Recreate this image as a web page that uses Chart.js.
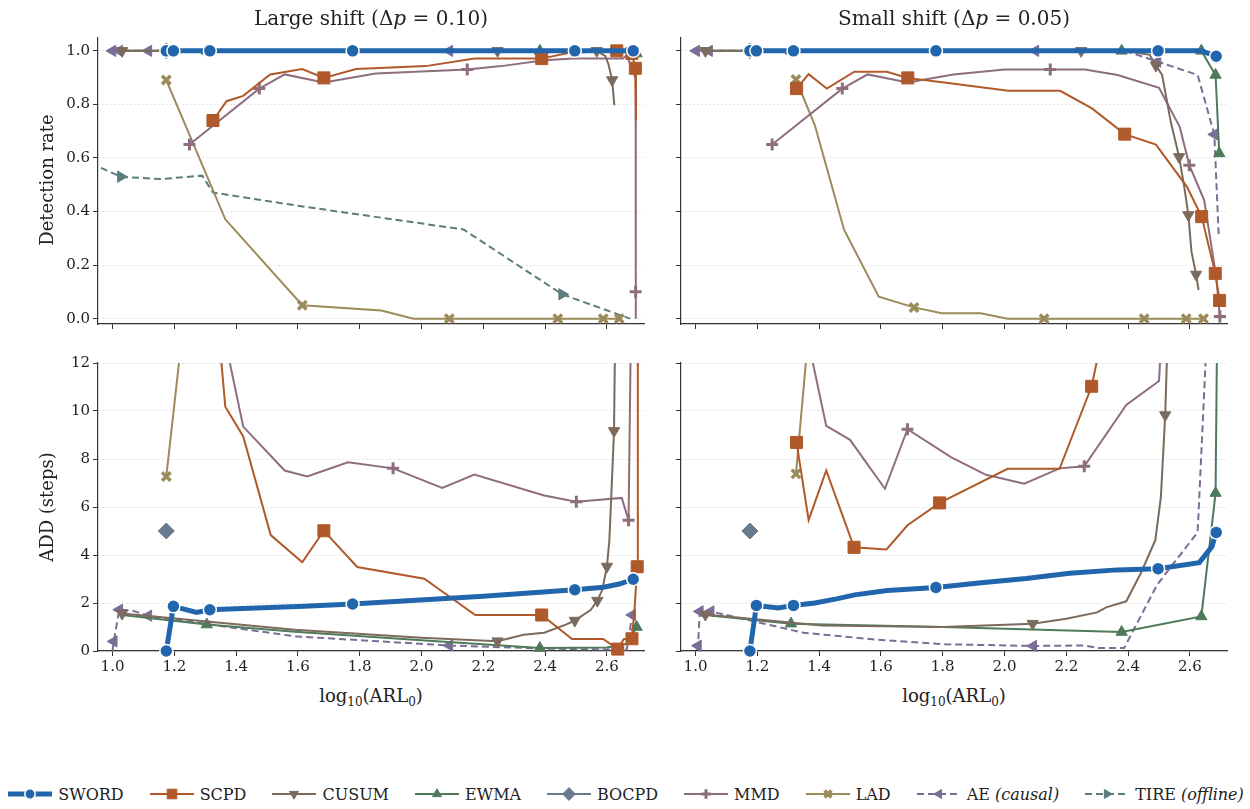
<!DOCTYPE html>
<html lang="en">
<head>
<meta charset="UTF-8">
<title>Detection rate and ADD vs ARL0</title>
<script src="https://cdn.jsdelivr.net/npm/chart.js@4.4.1/dist/chart.umd.min.js"></script>
<style>
  body { margin: 0; width: 1250px; height: 809px; background: #fff; position: relative; overflow: hidden;
         font-family: "DejaVu Serif", "Liberation Serif", serif; color: #222; }
  canvas.panel { position: absolute; }
  .txt { position: absolute; white-space: nowrap; transform: translate(-50%, -50%); }
  .title { font-size: 20px; }
  .axlab { font-size: 18px; }
  .axlab sub { font-size: 12px; }
  .ylab { transform: translate(-50%, -50%) rotate(-90deg); }
  #legend { position: absolute; left: 0; width: 1250px; top: 783px; display: flex; justify-content: center; gap: 24px; font-size: 16px; }
  #legend .item { display: flex; align-items: center; }
  #legend canvas { margin-right: 4px; }
</style>
</head>
<body>
<canvas class="panel" id="detLarge" width="660" height="338" style="left:0;top:0"></canvas>
<canvas class="panel" id="detSmall" width="590" height="338" style="left:660px;top:0"></canvas>
<canvas class="panel" id="addLarge" width="660" height="347" style="left:0;top:334px"></canvas>
<canvas class="panel" id="addSmall" width="590" height="347" style="left:660px;top:334px"></canvas>

<div class="txt title" style="left:371px;top:18px">Large shift (Δ<i>p</i> = 0.10)</div>
<div class="txt title" style="left:954px;top:18px">Small shift (Δ<i>p</i> = 0.05)</div>
<div class="txt axlab ylab" style="left:46px;top:180px">Detection rate</div>
<div class="txt axlab ylab" style="left:46px;top:507px">ADD (steps)</div>
<div class="txt axlab" style="left:371px;top:697px">log<sub>10</sub>(ARL<sub>0</sub>)</div>
<div class="txt axlab" style="left:954px;top:697px">log<sub>10</sub>(ARL<sub>0</sub>)</div>
<div id="legend"></div>

<script>
// ---- data: [log10(ARL0), value] pairs ----
const arlTicks = [1.0, 1.2, 1.4, 1.6, 1.8, 2.0, 2.2, 2.4, 2.6];
const detTicks = [0, 0.2, 0.4, 0.6, 0.8, 1.0];
const addTicks = [0, 2, 4, 6, 8, 10, 12];
const methods = ['SWORD', 'SCPD', 'CUSUM', 'EWMA', 'BOCPD', 'MMD', 'LAD', 'AE', 'TIRE'];

// large shift, detection rate
const swordDetLarge = [[1.174,1],[1.197,1],[1.315,1],[1.777,1],[2.496,1],[2.685,1]];
const scpdDetLarge = [[1.325,0.74],[1.369,0.812],[1.423,0.832],[1.51,0.912],[1.614,0.932],[1.684,0.899],[1.788,0.932],[2.014,0.943],[2.171,0.971],[2.389,0.971],[2.478,0.993],[2.632,1.0],[2.66,0.995],[2.681,0.99],[2.692,0.935],[2.694,0.74]];
const cusumDetLarge = [[1.031,1],[1.6,1],[2.246,1],[2.496,1],[2.567,1],[2.595,0.98],[2.605,0.95],[2.617,0.891],[2.624,0.797]];
const ewmaDetLarge = [[1.031,1],[1.305,1],[1.59,1],[2.0,1],[2.383,1],[2.6,1],[2.665,1],[2.696,0.99]];
const bocpdDetLarge = [[1.174,1]];
const mmdDetLarge = [[1.249,0.65],[1.475,0.859],[1.557,0.912],[1.684,0.882],[1.852,0.915],[2.148,0.93],[2.258,0.943],[2.397,0.965],[2.49,0.971],[2.652,0.971],[2.664,0.984],[2.693,0.897],[2.693,0.10],[2.694,0.0]];
const ladDetLarge = [[1.174,0.891],[1.365,0.371],[1.614,0.05],[1.87,0.03],[1.974,0],[2.09,0],[2.441,0],[2.588,0],[2.64,0]];
const aeDetLarge = [[1.0,1],[1.022,1],[1.063,1],[1.116,1],[1.59,1],[2.09,1],[2.4,1],[2.664,1],[2.682,1]];
const tireDetLarge = [[0.93,0.58],[1.027,0.53],[1.157,0.521],[1.29,0.534],[1.325,0.471],[1.597,0.422],[2.136,0.333],[2.455,0.091],[2.675,0.0]];

// large shift, ADD
const swordAddLarge = [[1.174,0],[1.197,1.86],[1.272,1.61],[1.315,1.72],[1.377,1.75],[1.62,1.86],[1.777,1.96],[2.2,2.28],[2.496,2.55],[2.589,2.66],[2.64,2.79],[2.685,2.99]];
const scpdAddLarge = [[1.325,16],[1.365,10.18],[1.423,8.94],[1.512,4.83],[1.614,3.7],[1.684,5.01],[1.792,3.5],[2.009,3.01],[2.174,1.5],[2.389,1.5],[2.487,0.5],[2.588,0.5],[2.635,0.08],[2.655,0.5],[2.681,0.51],[2.69,1.86],[2.698,3.51],[2.7,20]];
const cusumAddLarge = [[1.031,1.56],[1.305,1.23],[1.59,0.89],[2.0,0.55],[2.246,0.41],[2.33,0.68],[2.397,0.76],[2.467,1.1],[2.496,1.27],[2.548,1.72],[2.569,2.1],[2.585,2.55],[2.6,3.52],[2.608,4.62],[2.623,9.17],[2.629,16]];
const ewmaAddLarge = [[1.031,1.5],[1.305,1.1],[1.59,0.8],[2.0,0.45],[2.383,0.12],[2.6,0.15],[2.665,0.3],[2.696,1.0]];
const bocpdAddLarge = [[1.174,5.0]];
const mmdAddLarge = [[1.249,20],[1.423,9.35],[1.557,7.52],[1.63,7.27],[1.762,7.86],[1.908,7.61],[2.067,6.79],[2.171,7.35],[2.397,6.48],[2.501,6.22],[2.648,6.38],[2.67,5.45],[2.684,20]];
const ladAddLarge = [[1.174,7.27],[1.365,29.3],[1.614,60]];
const aeAddLarge = [[1.0,0],[1.004,0.4],[1.022,1.72],[1.063,1.69],[1.116,1.47],[1.59,0.61],[2.09,0.23],[2.4,0.1],[2.664,0.05],[2.682,1.5]];

// small shift, detection rate
const swordDetSmall = [[1.176,1],[1.197,1],[1.317,1],[1.778,1],[2.497,1],[2.636,1],[2.685,0.98]];
const scpdDetSmall = [[1.327,0.859],[1.366,0.913],[1.425,0.859],[1.514,0.922],[1.619,0.922],[1.687,0.899],[1.811,0.881],[2.012,0.851],[2.18,0.851],[2.283,0.785],[2.389,0.689],[2.49,0.65],[2.59,0.493],[2.638,0.381],[2.682,0.169],[2.696,0.068]];
const cusumDetSmall = [[1.032,1],[1.6,1],[2.248,1],[2.39,1],[2.47,0.985],[2.49,0.945],[2.51,0.91],[2.538,0.735],[2.565,0.604],[2.582,0.49],[2.595,0.387],[2.605,0.25],[2.62,0.165],[2.628,0.107]];
const ewmaDetSmall = [[1.032,1],[1.309,1],[2.379,1],[2.637,1],[2.66,0.955],[2.683,0.91],[2.695,0.617]];
const bocpdDetSmall = [[1.176,1]];
const mmdDetSmall = [[1.248,0.65],[1.475,0.859],[1.557,0.912],[1.687,0.882],[1.835,0.912],[2.0,0.93],[2.148,0.93],[2.26,0.93],[2.366,0.91],[2.5,0.862],[2.567,0.716],[2.598,0.573],[2.646,0.443],[2.685,0.157],[2.697,0.008]];
const ladDetSmall = [[1.325,0.893],[1.386,0.723],[1.481,0.331],[1.593,0.082],[1.707,0.042],[1.797,0.02],[1.923,0.02],[2.01,0],[2.128,0],[2.452,0],[2.588,0],[2.644,0]];
const aeDetSmall = [[1.002,1],[1.044,1],[1.5,1],[2.1,1],[2.39,1],[2.495,0.96],[2.625,0.91],[2.679,0.688],[2.693,0.315]];

// small shift, ADD
const swordAddSmall = [[1.176,0],[1.197,1.9],[1.268,1.79],[1.317,1.9],[1.386,2.0],[1.456,2.17],[1.515,2.34],[1.621,2.52],[1.778,2.65],[1.916,2.83],[2.07,3.02],[2.211,3.24],[2.364,3.38],[2.497,3.43],[2.63,3.68],[2.671,4.34],[2.685,4.94]];
const scpdAddSmall = [[1.327,8.69],[1.366,5.45],[1.423,7.52],[1.513,4.32],[1.618,4.23],[1.686,5.24],[1.79,6.17],[2.01,7.59],[2.178,7.59],[2.282,11.03],[2.33,14]];
const cusumAddSmall = [[1.032,1.52],[1.409,1.06],[1.8,1.0],[2.091,1.14],[2.2,1.34],[2.3,1.61],[2.329,1.82],[2.394,2.07],[2.441,3.24],[2.488,4.62],[2.506,6.41],[2.52,9.83],[2.53,14]];
const ewmaAddSmall = [[1.032,1.5],[1.309,1.14],[1.8,1.0],[2.379,0.79],[2.637,1.44],[2.683,6.58],[2.69,16]];
const bocpdAddSmall = [[1.176,5.0]];
const mmdAddSmall = [[1.248,20],[1.423,9.38],[1.5,8.8],[1.613,6.76],[1.686,9.24],[1.828,8.07],[1.94,7.34],[2.064,6.97],[2.178,7.61],[2.258,7.7],[2.394,10.25],[2.5,11.25],[2.52,16]];
const ladAddSmall = [[1.325,7.38],[1.386,16.2],[1.481,40]];
const aeAddSmall = [[1.003,0.05],[1.008,0.22],[1.014,1.65],[1.049,1.65],[1.35,0.76],[1.588,0.47],[1.81,0.28],[2.093,0.21],[2.258,0.23],[2.305,0.12],[2.387,0.12],[2.494,2.76],[2.625,4.95],[2.665,16]];

// ---- styles ----
const STY = {
  SWORD: { color: '#2166ac', width: 5, shape: 'circle', r: 6.5, edge: '#ffffff', bw: 1.5 },
  SCPD:  { color: '#b0592a', width: 2, shape: 'rect', r: 8.5 },
  CUSUM: { color: '#7c6b5c', width: 2, shape: 'triangle', r: 6.5, rot: 180 },
  EWMA:  { color: '#4e7a5b', width: 2, shape: 'triangle', r: 6.5 },
  BOCPD: { color: '#697a8d', width: 2, shape: 'rectRot', r: 8 },
  MMD:   { color: '#8e6e7e', width: 2, shape: 'cross', r: 6, bw: 3 },
  LAD:   { color: '#9b8a5a', width: 2, shape: 'crossRot', r: 6, bw: 3.5 },
  AE:    { color: '#7a6e97', width: 2, shape: 'triangle', r: 6.5, rot: 270, dash: [7, 4] },
  TIRE:  { color: '#5b7e7c', width: 2, shape: 'triangle', r: 6.5, rot: 90, dash: [7, 4] }
};

// which points carry a marker (like matplotlib markevery)
const MARKS = {
  detLarge: { SWORD: [0,1,2,3,4,5], SCPD: [0,5,9,11,13,14], CUSUM: [0,2,3,4,7], EWMA: [1,4,7], BOCPD: [0],
              MMD: [0,1,5,12], LAD: [0,2,5,6,7,8], AE: [0,1,3,5,8], TIRE: [1,7] },
  addLarge: { SWORD: [0,1,3,6,8,11], SCPD: [5,9,12,14,16], CUSUM: [0,4,8,10,12,14], EWMA: [1,4,7], BOCPD: [0],
              MMD: [5,9,11], LAD: [0], AE: [1,2,4,6,9] },
  detSmall: { SWORD: [0,1,2,3,4,6], SCPD: [0,5,10,13,14,15], CUSUM: [0,2,5,8,10,12], EWMA: [1,2,3,5,6], BOCPD: [0],
              MMD: [0,1,6,11,14], LAD: [0,4,8,9,10,11], AE: [0,1,3,5,7] },
  addSmall: { SWORD: [0,1,3,8,13,16], SCPD: [0,3,6,9], CUSUM: [0,3,11], EWMA: [1,3,4,5], BOCPD: [0],
              MMD: [4,9], LAD: [0], AE: [1,2,3,7] }
};

const PANELS = {
  detLarge: { SWORD: swordDetLarge, SCPD: scpdDetLarge, CUSUM: cusumDetLarge, EWMA: ewmaDetLarge, BOCPD: bocpdDetLarge,
              MMD: mmdDetLarge, LAD: ladDetLarge, AE: aeDetLarge, TIRE: tireDetLarge },
  addLarge: { SWORD: swordAddLarge, SCPD: scpdAddLarge, CUSUM: cusumAddLarge, EWMA: ewmaAddLarge, BOCPD: bocpdAddLarge,
              MMD: mmdAddLarge, LAD: ladAddLarge, AE: aeAddLarge },
  detSmall: { SWORD: swordDetSmall, SCPD: scpdDetSmall, CUSUM: cusumDetSmall, EWMA: ewmaDetSmall, BOCPD: bocpdDetSmall,
              MMD: mmdDetSmall, LAD: ladDetSmall, AE: aeDetSmall },
  addSmall: { SWORD: swordAddSmall, SCPD: scpdAddSmall, CUSUM: cusumAddSmall, EWMA: ewmaAddSmall, BOCPD: bocpdAddSmall,
              MMD: mmdAddSmall, LAD: ladAddSmall, AE: aeAddSmall }
};

Chart.defaults.font.family = '"DejaVu Serif", "Liberation Serif", serif';
Chart.defaults.color = '#222';

function makeDataset(name, pts, marks) {
  const s = STY[name];
  return {
    label: name,
    data: pts.map(p => ({ x: p[0], y: p[1] })),
    showLine: pts.length > 1,
    borderColor: s.color,
    borderWidth: s.width,
    borderDash: s.dash || [],
    tension: 0,
    pointStyle: s.shape,
    pointRotation: s.rot || 0,
    pointRadius: pts.map((_, i) => marks.includes(i) ? s.r : 0),
    pointHoverRadius: 0,
    pointBackgroundColor: s.color,
    pointBorderColor: s.edge || s.color,
    pointBorderWidth: s.bw || 1
  };
}

function buildPanel(id, isLeft) {
  const isDet = id.startsWith('det');
  const yTicks = isDet ? detTicks : addTicks;
  const datasets = methods
    .filter(m => PANELS[id][m])
    .map(m => makeDataset(m, PANELS[id][m], MARKS[id][m]));
  new Chart(document.getElementById(id), {
    type: 'line',
    data: { datasets },
    options: {
      responsive: false,
      maintainAspectRatio: false,
      animation: false,
      events: [],
      clip: isDet ? { left: 0, top: 12, right: 12, bottom: 12 } : { left: 0, top: 0, right: 12, bottom: 12 },
      layout: { padding: { left: 0, top: isDet ? 38 : 29, right: isLeft ? 16 : 23, bottom: 0 } },
      plugins: { legend: { display: false }, tooltip: { enabled: false }, title: { display: false } },
      scales: {
        x: {
          type: 'linear', min: 0.953, max: 2.72,
          afterBuildTicks: sc => { sc.ticks = arlTicks.map(v => ({ value: v })); },
          afterFit: sc => { sc.height = isDet ? 14 : 30; },
          grid: { drawOnChartArea: false, drawTicks: true, tickLength: 5, tickColor: '#333', tickWidth: 1 },
          border: { display: true, color: '#333', width: 1.2 },
          ticks: { display: !isDet, padding: 2, font: { size: 15 }, color: '#222', maxRotation: 0,
                   callback: v => Number(v).toFixed(1) }
        },
        y: {
          type: 'linear',
          min: isDet ? -0.02 : 0, max: isDet ? 1.048 : 12,
          afterBuildTicks: sc => { sc.ticks = yTicks.map(v => ({ value: v })); },
          afterFit: sc => { sc.width = isLeft ? 98 : 21; },
          grid: { color: '#d4d4d4', lineWidth: 0.8, drawTicks: true, tickLength: 5, tickColor: '#333', tickWidth: 1 },
          border: { display: true, color: '#333', width: 1.2, dash: [1.5, 2.5] },
          ticks: { display: isLeft, padding: 3, font: { size: 15 }, color: '#222',
                   callback: v => isDet ? Number(v).toFixed(1) : String(v) }
        }
      }
    }
  });
}

buildPanel('detLarge', true);
buildPanel('detSmall', false);
buildPanel('addLarge', true);
buildPanel('addSmall', false);

// ---- legend (line + marker handles like matplotlib) ----
function drawMarker(ctx, s, x, y) {
  const r = s.r * 0.8;
  ctx.save();
  ctx.translate(x, y);
  ctx.rotate((s.rot || 0) * Math.PI / 180);
  ctx.fillStyle = s.color;
  ctx.strokeStyle = s.edge || s.color;
  ctx.lineWidth = s.bw || 1;
  ctx.beginPath();
  if (s.shape === 'circle') {
    ctx.arc(0, 0, r, 0, Math.PI * 2); ctx.fill(); ctx.stroke();
  } else if (s.shape === 'rect') {
    const h = r * Math.SQRT1_2; ctx.rect(-h, -h, 2 * h, 2 * h); ctx.fill(); ctx.stroke();
  } else if (s.shape === 'rectRot') {
    ctx.moveTo(0, -r); ctx.lineTo(r, 0); ctx.lineTo(0, r); ctx.lineTo(-r, 0); ctx.closePath(); ctx.fill(); ctx.stroke();
  } else if (s.shape === 'triangle') {
    for (let k = 0; k < 3; k++) {
      const a = k * 2 * Math.PI / 3;
      const px = Math.sin(a) * r, py = -Math.cos(a) * r;
      k ? ctx.lineTo(px, py) : ctx.moveTo(px, py);
    }
    ctx.closePath(); ctx.fill(); ctx.stroke();
  } else if (s.shape === 'cross' || s.shape === 'crossRot') {
    if (s.shape === 'crossRot') ctx.rotate(Math.PI / 4);
    ctx.moveTo(-r, 0); ctx.lineTo(r, 0); ctx.moveTo(0, -r); ctx.lineTo(0, r); ctx.stroke();
  }
  ctx.restore();
}

const legend = document.getElementById('legend');
methods.forEach(m => {
  const s = STY[m];
  const item = document.createElement('div');
  item.className = 'item';
  const c = document.createElement('canvas');
  c.width = 48; c.height = 22;
  const ctx = c.getContext('2d');
  ctx.strokeStyle = s.color;
  ctx.lineWidth = s.width;
  ctx.setLineDash(s.dash || []);
  ctx.beginPath(); ctx.moveTo(2, 11); ctx.lineTo(46, 11); ctx.stroke();
  ctx.setLineDash([]);
  drawMarker(ctx, s, 24, 11);
  item.appendChild(c);
  const t = document.createElement('span');
  if (m === 'AE') t.innerHTML = 'AE <i>(causal)</i>';
  else if (m === 'TIRE') t.innerHTML = 'TIRE <i>(offline)</i>';
  else t.textContent = m;
  item.appendChild(t);
  legend.appendChild(item);
});
</script>
</body>
</html>
